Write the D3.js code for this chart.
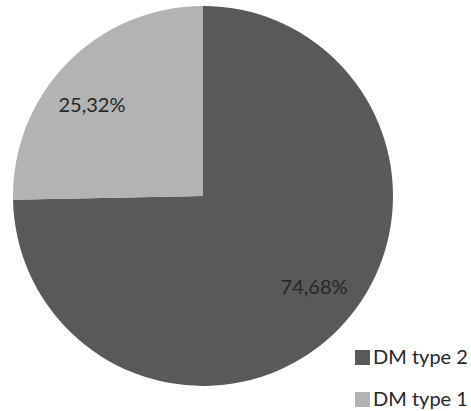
<!DOCTYPE html>
<html>
<head>
<meta charset="utf-8">
<script src="https://cdn.jsdelivr.net/npm/d3@7"></script>
<style>
  body { margin: 0; background: #fff; }
  text { font-family: Lato, "Open Sans", sans-serif; }
</style>
</head>
<body>
<div class="chart"></div>
<script>
const categories = ["DM type 2", "DM type 1"];
const values = [74.68, 25.32];
const labels = ["74,68%", "25,32%"];
const colors = ["#595959", "#b3b3b3"];

const w = 471;
const h = 411;
const cx = 203;
const cy = 196;
const radius = 190;

const svg = d3
    .select(".chart")
    .append("svg")
    .attr("width", w)
    .attr("height", h);

const color = d3.scaleOrdinal().domain(categories).range(colors);

const pie = d3.pie().sort(null).value((d) => d.value);
const data = categories.map((c, i) => ({ name: c, value: values[i], label: labels[i] }));

const arc = d3.arc().innerRadius(0).outerRadius(radius);
const labelArc = d3.arc().innerRadius(144).outerRadius(144);

const g = svg.append("g").attr("transform", `translate(${cx},${cy})`);

g.selectAll("path")
    .data(pie(data))
    .join("path")
    .attr("d", arc)
    .attr("fill", (d) => color(d.data.name));

// labels sit a bit flatter than the plain centroid, like the office "best fit"
g.selectAll("text.label")
    .data(pie(data))
    .join("text")
    .attr("class", "label")
    .attr("transform", (d) => {
        const [x, y] = labelArc.centroid(d);
        return `translate(${x * 1.08},${y * 0.9})`;
    })
    .attr("text-anchor", "middle")
    .attr("dy", "0.35em")
    .attr("font-size", 20)
    .attr("fill", "#262626")
    .text((d) => d.data.label);

// legend
const legend = svg
    .append("g")
    .selectAll("g")
    .data(categories)
    .join("g")
    .attr("transform", (d, i) => `translate(355,${350 + i * 42})`);

legend
    .append("rect")
    .attr("width", 15)
    .attr("height", 15)
    .attr("fill", (d) => color(d));

legend
    .append("text")
    .attr("x", 18)
    .attr("y", 14)
    .attr("font-size", 20)
    .attr("fill", "#262626")
    .text((d) => d);
</script>
</body>
</html>
